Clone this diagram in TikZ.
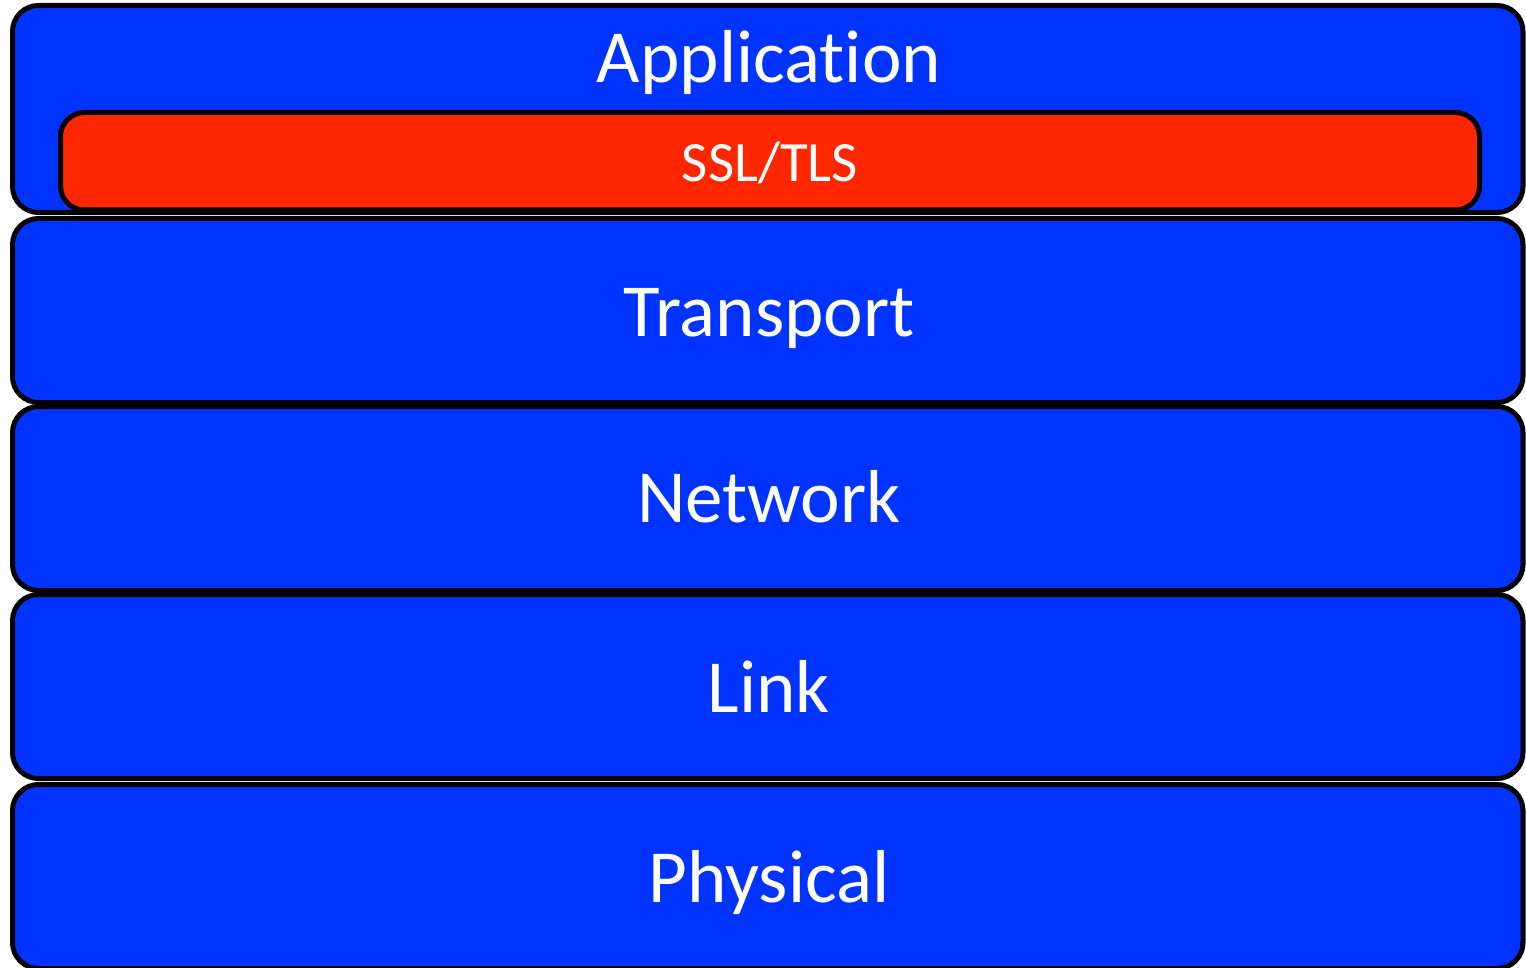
\documentclass[tikz,border=0pt]{standalone}
\usepackage{fontspec}
\setmainfont{Carlito}[Ligatures=NoCommon]
\usepackage{xcolor}
\usepackage{tikz}
\definecolor{layerblue}{HTML}{0033FF}
\definecolor{tlsred}{HTML}{FF2600}

\begin{document}
\begin{tikzpicture}[x=1pt, y=-1pt,
    layer/.style={draw=black, line width=5pt, fill=layerblue, rounded corners=26pt,
                  minimum width=1510.5pt, inner sep=0pt},
    tls/.style={draw=black, line width=5pt, fill=tlsred, rounded corners=24pt,
                minimum width=1419pt, minimum height=97.5pt, inner sep=0pt},
    lbl/.style={text=white, anchor=base, inner sep=0pt, font=\fontsize{75}{80}\selectfont},
    small lbl/.style={lbl, font=\fontsize{57}{60}\selectfont}]
    \useasboundingbox (0,0) rectangle (1526,968);
    % Protocol stack, top to bottom
    \node[layer, minimum height=207pt] (application) at (767.75,109) {};
    \node[lbl] (application-t) at (769,82.7) {Application};
    \node[tls] (ssltls) at (770,161.25) {};
    \node[small lbl] (ssltls-t) at (770,181.7) {SSL/TLS};

    \node[layer, minimum height=184pt] (transport) at (767.75,310.5) {};
    \node[lbl] (transport-t) at (769,336.7) {Transport};

    \node[layer, minimum height=184pt] (network) at (767.75,498.5) {};
    \node[lbl] (network-t) at (769,522.7) {Network};

    \node[layer, minimum height=184pt] (link) at (767.75,686.5) {};
    \node[lbl] (link-t) at (769,712.7) {Link};

    \node[layer, minimum height=184pt] (physical) at (767.75,876.5) {};
    \node[lbl] (physical-t) at (769,902.7) {Physical};
\end{tikzpicture}
\end{document}
